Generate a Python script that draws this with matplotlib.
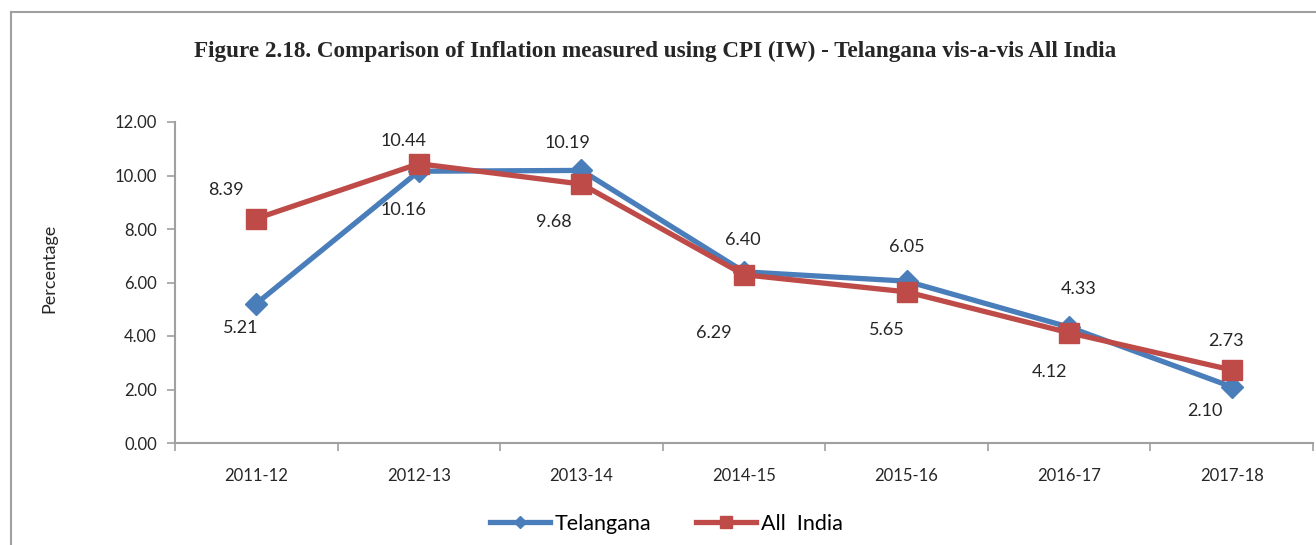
import numpy as np
import matplotlib.pyplot as plt
from matplotlib.lines import Line2D

years = ['2011-12', '2012-13', '2013-14', '2014-15', '2015-16', '2016-17', '2017-18']
telangana = [5.21, 10.16, 10.19, 6.40, 6.05, 4.33, 2.10]
all_india = [8.39, 10.44, 9.68, 6.29, 5.65, 4.12, 2.73]

# label offsets in pixels (dx, dy), hand tuned
tel_off = [(-16, -24), (-15, -39), (-14, 27), (-1, 32), (0, 34), (9, 38), (-27, -24)]
ind_off = [(-30, 29), (-15, 23), (-28, -38), (-30, -58), (-20, -38), (-20, -39), (-6, 29)]

blue = '#4A7EBB'
red = '#BE4B48'
txt = '#262626'
grey = '#A0A0A0'

plt.rcParams['font.family'] = ['Lato', 'DejaVu Sans']

fig = plt.figure(figsize=(13.16, 5.45), dpi=100)
ax = fig.add_axes([175/1316, 1 - 443/545, (1313 - 175)/1316, (443 - 122)/545])

# outer frame of the chart box
fig.add_artist(Line2D([11/1316, 11/1316], [0, 1 - 12/545], color=grey, lw=1.5))
fig.add_artist(Line2D([11/1316, 1], [1 - 12/545, 1 - 12/545], color=grey, lw=1.5))

x = np.arange(len(years))
ax.plot(x, telangana, color=blue, lw=3.8, marker='D', markersize=11, label='Telangana', zorder=3)
ax.plot(x, all_india, color=red, lw=3.8, marker='s', markersize=15, label='All  India', zorder=4)

for xi, v, (dx, dy) in zip(x, telangana, tel_off):
    ax.annotate(f'{v:.2f}', (xi, v), xytext=(dx, dy), textcoords='offset pixels',
                ha='center', va='center', fontsize=13, color=txt)
for xi, v, (dx, dy) in zip(x, all_india, ind_off):
    ax.annotate(f'{v:.2f}', (xi, v), xytext=(dx, dy), textcoords='offset pixels',
                ha='center', va='center', fontsize=13, color=txt)

ax.set_xlim(-0.5, len(years) - 0.5)
ax.set_ylim(0, 12)
ax.set_yticks(np.arange(0, 12.01, 2))
ax.set_yticklabels([f'{t:.2f}' for t in np.arange(0, 12.01, 2)])
ax.set_xticks(x)
ax.set_xticklabels(years)
ax.set_xticks(np.arange(-0.5, len(years), 1), minor=True)
ax.tick_params(axis='x', which='major', length=0, pad=18, labelsize=12, colors=txt)
ax.tick_params(axis='x', which='minor', length=6, color=grey, width=1.2)
ax.tick_params(axis='y', length=6, color=grey, width=1.2, labelsize=12, colors=txt, pad=7)

for s in ['top', 'right']:
    ax.spines[s].set_visible(False)
for s in ['left', 'bottom']:
    ax.spines[s].set_color(grey)
    ax.spines[s].set_linewidth(1.5)

ax.set_ylabel('Percentage', fontsize=13, color=txt)
ax.yaxis.set_label_coords((57 - 175) / 1138, (443 - 268) / 321)

fig.text(655/1316, 1 - 51/545, 'Figure 2.18. Comparison of Inflation measured using CPI (IW) - Telangana vis-a-vis All India',
         ha='center', va='center', fontsize=16.7, fontweight='bold', family='Liberation Serif', color=txt)

fig.legend(loc='center', bbox_to_anchor=(666/1316, 1 - 524/545), ncol=2, frameon=False,
           fontsize=15.5, handlelength=2.8, columnspacing=2.1, handletextpad=0.2, markerscale=0.6)

plt.savefig('out.png', dpi=100)
